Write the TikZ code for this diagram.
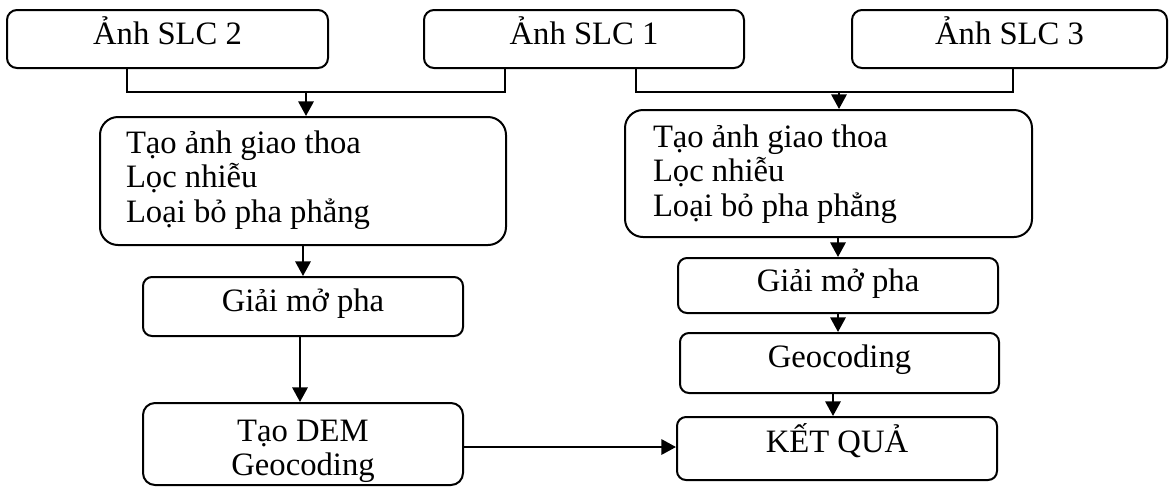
\documentclass[tikz,border=0pt]{standalone}
\usepackage{fontspec}
\setmainfont{Liberation Serif}
\usetikzlibrary{arrows.meta}
\begin{document}
\begin{tikzpicture}[x=0.75pt,y=-0.75pt,
  box/.style={draw, line width=1.5pt, inner sep=0pt, font=\fontsize{24.5}{26}\selectfont, text height=16.5pt},
  topbox/.style={box, rounded corners=7.5pt, minimum height=43.5pt, text depth=9pt},
  bigbox/.style={box, rounded corners=13.5pt, align=flush left},
  smallbox/.style={box, rounded corners=6.75pt, minimum width=240pt},
  ln/.style={line width=1.7pt},
  arr/.style={ln, -{Triangle[length=11pt,width=11.5pt]}}]
\useasboundingbox (0,0) rectangle (1169,487);

% top row
\node[topbox, minimum width=240.75pt] (slc2) at (167.5,39) {Ảnh SLC 2};
\node[topbox, minimum width=240pt] (slc1) at (584,39) {Ảnh SLC 1};
\node[topbox, minimum width=236.25pt] (slc3) at (1009.5,39) {Ảnh SLC 3};

% left branch
\node[bigbox, minimum width=304.5pt, minimum height=96pt, text width=265.5pt, text depth=58.5pt] (p1) at (303,181)
  {Tạo ảnh giao thoa\\Lọc nhiễu\\Loại bỏ pha phẳng};
\node[smallbox, minimum height=44.25pt, text depth=9.75pt] (g1) at (303,306.5) {Giải mở pha};
\node[smallbox, rounded corners=9pt, minimum height=61.5pt, align=flush center, text width=240pt, text depth=21pt] (dem) at (303,444)
  {Tạo DEM\\Geocoding};

% right branch
\node[bigbox, minimum width=305.25pt, minimum height=95.25pt, text width=263.25pt, text depth=56.25pt] (p2) at (828.5,173.5)
  {Tạo ảnh giao thoa\\Lọc nhiễu\\Loại bỏ pha phẳng};
\node[smallbox, minimum height=41.25pt, text depth=7.5pt] (g2) at (838,285.5) {Giải mở pha};
\node[smallbox, minimum width=239.25pt, minimum height=45pt, text depth=10.5pt] (geo) at (839.5,363) {Geocoding};
\node[smallbox, minimum height=47.25pt, text depth=11.25pt] (kq) at (837,448.5) {KẾT QUẢ};

% junctions
\coordinate (j1) at (306,92);
\coordinate (j2) at (839,92);

% connectors from the top row
\draw[ln] (127,0 |- slc2.south) |- (505,92) -- (505,0 |- slc1.south);
\draw[arr] (j1) -- (j1 |- p1.north);
\draw[ln] (636,0 |- slc1.south) |- (1013,92) -- (1013,0 |- slc3.south);
\draw[arr] (j2) -- (j2 |- p2.north);

% left column
\draw[arr] (p1.south) -- (g1.north);
\draw[arr] (300,0 |- g1.south) -- (300,0 |- dem.north);

% right column
\draw[arr] (g2.north |- p2.south) -- (g2.north);
\draw[arr] (g2.south) -- (g2.south |- geo.north);
\draw[arr] (833,0 |- geo.south) -- (833,0 |- kq.north);

% DEM to result
\draw[arr] (dem.east |- 0,447) -- (kq.west |- 0,447);
\end{tikzpicture}
\end{document}
